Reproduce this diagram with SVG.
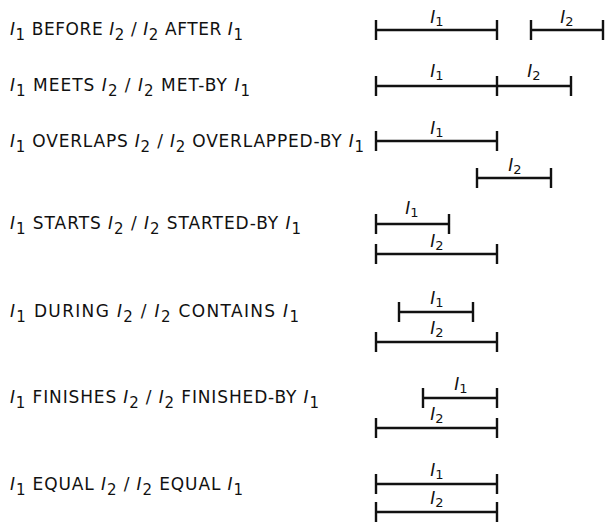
<svg xmlns="http://www.w3.org/2000/svg" width="605" height="525" viewBox="0 0 605 525">
  <style>
    text { font-family: "DejaVu Sans", "Liberation Sans", sans-serif; font-size: 17px; fill: #111; }
    .it { font-style: italic; }
    .sub { font-size: 15px; }
    .tag { text-anchor: middle; font-size: 17px; }
    .tag .sub { font-size: 13px; }
    .iv { fill: none; stroke: #111; stroke-width: 2.4; }
  </style>

  <!-- BEFORE / AFTER -->
  <g id="before">
    <text x="10" y="35" textLength="233" lengthAdjust="spacing"><tspan class="it">I</tspan><tspan class="sub" dy="5">1</tspan><tspan dy="-5"> BEFORE </tspan><tspan class="it">I</tspan><tspan class="sub" dy="5">2</tspan><tspan dy="-5"> / </tspan><tspan class="it">I</tspan><tspan class="sub" dy="5">2</tspan><tspan dy="-5"> AFTER </tspan><tspan class="it">I</tspan><tspan class="sub" dy="5">1</tspan></text>
    <path class="iv" d="M376 30H497M376 20v20M497 20v20"/>
    <text class="tag" x="437" y="23"><tspan class="it">I</tspan><tspan class="sub" dy="3">1</tspan></text>
    <path class="iv" d="M531 30H603M531 20v20M603 20v20"/>
    <text class="tag" x="567" y="23"><tspan class="it">I</tspan><tspan class="sub" dy="3">2</tspan></text>
  </g>

  <!-- MEETS / MET-BY -->
  <g id="meets">
    <text x="10" y="91" textLength="240" lengthAdjust="spacing"><tspan class="it">I</tspan><tspan class="sub" dy="5">1</tspan><tspan dy="-5"> MEETS </tspan><tspan class="it">I</tspan><tspan class="sub" dy="5">2</tspan><tspan dy="-5"> / </tspan><tspan class="it">I</tspan><tspan class="sub" dy="5">2</tspan><tspan dy="-5"> MET-BY </tspan><tspan class="it">I</tspan><tspan class="sub" dy="5">1</tspan></text>
    <path class="iv" d="M376 86H497M376 76v20M497 76v20"/>
    <text class="tag" x="437" y="77"><tspan class="it">I</tspan><tspan class="sub" dy="3">1</tspan></text>
    <path class="iv" d="M497 86H571M571 76v20"/>
    <text class="tag" x="534" y="77"><tspan class="it">I</tspan><tspan class="sub" dy="3">2</tspan></text>
  </g>

  <!-- OVERLAPS / OVERLAPPED-BY -->
  <g id="overlaps">
    <text x="10" y="147" textLength="354" lengthAdjust="spacing"><tspan class="it">I</tspan><tspan class="sub" dy="5">1</tspan><tspan dy="-5"> OVERLAPS </tspan><tspan class="it">I</tspan><tspan class="sub" dy="5">2</tspan><tspan dy="-5"> / </tspan><tspan class="it">I</tspan><tspan class="sub" dy="5">2</tspan><tspan dy="-5"> OVERLAPPED-BY </tspan><tspan class="it">I</tspan><tspan class="sub" dy="5">1</tspan></text>
    <path class="iv" d="M376 141H497M376 131v20M497 131v20"/>
    <text class="tag" x="437" y="134"><tspan class="it">I</tspan><tspan class="sub" dy="3">1</tspan></text>
    <path class="iv" d="M477 178H551M477 168v20M551 168v20"/>
    <text class="tag" x="515" y="171"><tspan class="it">I</tspan><tspan class="sub" dy="3">2</tspan></text>
  </g>

  <!-- STARTS / STARTED-BY -->
  <g id="starts">
    <text x="10" y="229" textLength="291" lengthAdjust="spacing"><tspan class="it">I</tspan><tspan class="sub" dy="5">1</tspan><tspan dy="-5"> STARTS </tspan><tspan class="it">I</tspan><tspan class="sub" dy="5">2</tspan><tspan dy="-5"> / </tspan><tspan class="it">I</tspan><tspan class="sub" dy="5">2</tspan><tspan dy="-5"> STARTED-BY </tspan><tspan class="it">I</tspan><tspan class="sub" dy="5">1</tspan></text>
    <path class="iv" d="M376 224H449M376 214v20M449 214v20"/>
    <text class="tag" x="412" y="214"><tspan class="it">I</tspan><tspan class="sub" dy="3">1</tspan></text>
    <path class="iv" d="M376 254H497M376 244v20M497 244v20"/>
    <text class="tag" x="437" y="247"><tspan class="it">I</tspan><tspan class="sub" dy="3">2</tspan></text>
  </g>

  <!-- DURING / CONTAINS -->
  <g id="during">
    <text x="10" y="317" textLength="289" lengthAdjust="spacing"><tspan class="it">I</tspan><tspan class="sub" dy="5">1</tspan><tspan dy="-5"> DURING </tspan><tspan class="it">I</tspan><tspan class="sub" dy="5">2</tspan><tspan dy="-5"> / </tspan><tspan class="it">I</tspan><tspan class="sub" dy="5">2</tspan><tspan dy="-5"> CONTAINS </tspan><tspan class="it">I</tspan><tspan class="sub" dy="5">1</tspan></text>
    <path class="iv" d="M399 312H473M399 302v20M473 302v20"/>
    <text class="tag" x="437" y="304"><tspan class="it">I</tspan><tspan class="sub" dy="3">1</tspan></text>
    <path class="iv" d="M376 342H497M376 332v20M497 332v20"/>
    <text class="tag" x="437" y="334"><tspan class="it">I</tspan><tspan class="sub" dy="3">2</tspan></text>
  </g>

  <!-- FINISHES / FINISHED-BY -->
  <g id="finishes">
    <text x="10" y="403" textLength="309" lengthAdjust="spacing"><tspan class="it">I</tspan><tspan class="sub" dy="5">1</tspan><tspan dy="-5"> FINISHES </tspan><tspan class="it">I</tspan><tspan class="sub" dy="5">2</tspan><tspan dy="-5"> / </tspan><tspan class="it">I</tspan><tspan class="sub" dy="5">2</tspan><tspan dy="-5"> FINISHED-BY </tspan><tspan class="it">I</tspan><tspan class="sub" dy="5">1</tspan></text>
    <path class="iv" d="M423 398H497M423 388v20M497 388v20"/>
    <text class="tag" x="461" y="390"><tspan class="it">I</tspan><tspan class="sub" dy="3">1</tspan></text>
    <path class="iv" d="M376 428H497M376 418v20M497 418v20"/>
    <text class="tag" x="437" y="420"><tspan class="it">I</tspan><tspan class="sub" dy="3">2</tspan></text>
  </g>

  <!-- EQUAL / EQUAL -->
  <g id="equal">
    <text x="10" y="490" textLength="233" lengthAdjust="spacing"><tspan class="it">I</tspan><tspan class="sub" dy="5">1</tspan><tspan dy="-5"> EQUAL </tspan><tspan class="it">I</tspan><tspan class="sub" dy="5">2</tspan><tspan dy="-5"> / </tspan><tspan class="it">I</tspan><tspan class="sub" dy="5">2</tspan><tspan dy="-5"> EQUAL </tspan><tspan class="it">I</tspan><tspan class="sub" dy="5">1</tspan></text>
    <path class="iv" d="M376 484H497M376 474v20M497 474v20"/>
    <text class="tag" x="437" y="476"><tspan class="it">I</tspan><tspan class="sub" dy="3">1</tspan></text>
    <path class="iv" d="M376 512H497M376 502v20M497 502v20"/>
    <text class="tag" x="437" y="504"><tspan class="it">I</tspan><tspan class="sub" dy="3">2</tspan></text>
  </g>
</svg>
